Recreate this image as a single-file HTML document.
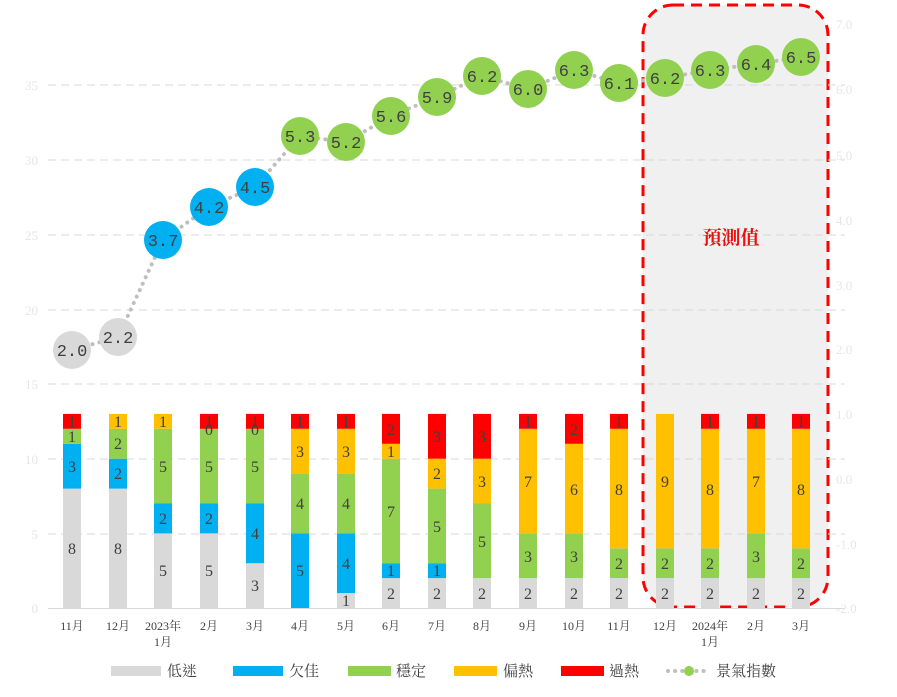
<!DOCTYPE html>
<html><head><meta charset="utf-8"><style>
html,body{margin:0;padding:0;background:#fff;}
svg{display:block;font-family:"Liberation Serif","Noto Serif CJK TC","Noto Sans CJK TC",serif;}
.l{font-size:16px;fill:#404040;text-anchor:middle;}
.x{font-size:12px;fill:#404040;text-anchor:middle;}
.a{font-size:13px;fill:#e6e6e6;}
.c{font-size:17px;fill:#404040;text-anchor:middle;font-family:"Liberation Mono",monospace;}
.g{fill:#d9d9d9}.b{fill:#00b0f0}.n{fill:#92d050}.y{fill:#ffc000}.r{fill:#ff0000}
</style></head><body>
<svg width="897" height="697" viewBox="0 0 897 697">
<rect x="643" y="5" width="185" height="602" rx="30" fill="#f0f0f0" stroke="#ff0000" stroke-width="3" stroke-dasharray="11,7"/>
<g stroke="#d9d9d9" stroke-width="1" stroke-dasharray="8,5">
<line x1="48" x2="845" y1="85" y2="85"/><line x1="48" x2="845" y1="160" y2="160"/>
<line x1="48" x2="845" y1="235" y2="235"/><line x1="48" x2="845" y1="310" y2="310"/>
<line x1="48" x2="845" y1="384" y2="384"/><line x1="48" x2="845" y1="459" y2="459"/>
<line x1="48" x2="845" y1="534" y2="534"/>
</g>
<line x1="48" x2="845" y1="608.5" y2="608.5" stroke="#d9d9d9"/>
<g class="a" text-anchor="end">
<text x="38" y="90">35</text><text x="38" y="165">30</text><text x="38" y="240">25</text>
<text x="38" y="315">20</text><text x="38" y="389">15</text><text x="38" y="464">10</text>
<text x="38" y="539">5</text><text x="38" y="613">0</text>
</g>
<g class="a" text-anchor="start">
<text x="836" y="29">7.0</text><text x="836" y="94">6.0</text><text x="836" y="160">5.0</text>
<text x="836" y="225">4.0</text><text x="836" y="290">3.0</text><text x="836" y="354">2.0</text>
<text x="836" y="419">1.0</text><text x="836" y="484">0.0</text><text x="836" y="549">-1.0</text>
<text x="836" y="613">-2.0</text>
</g>
<g>
<rect class="g" x="63" y="488.6" width="18" height="119.4"/><rect class="b" x="63" y="443.8" width="18" height="44.8"/><rect class="n" x="63" y="428.8" width="18" height="15"/><rect class="r" x="63" y="413.9" width="18" height="14.9"/>
<text class="l" x="72" y="554">8</text><text class="l" x="72" y="472">3</text><text class="l" x="72" y="442">1</text><text class="l" x="72" y="427">1</text>
<rect class="g" x="109" y="488.6" width="18" height="119.4"/><rect class="b" x="109" y="458.7" width="18" height="29.9"/><rect class="n" x="109" y="428.8" width="18" height="29.9"/><rect class="y" x="109" y="413.9" width="18" height="14.9"/>
<text class="l" x="118" y="554">8</text><text class="l" x="118" y="479">2</text><text class="l" x="118" y="449">2</text><text class="l" x="118" y="427">1</text>
<rect class="g" x="154" y="533.4" width="18" height="74.6"/><rect class="b" x="154" y="503.5" width="18" height="29.9"/><rect class="n" x="154" y="428.8" width="18" height="74.7"/><rect class="y" x="154" y="413.9" width="18" height="14.9"/>
<text class="l" x="163" y="576">5</text><text class="l" x="163" y="524">2</text><text class="l" x="163" y="472">5</text><text class="l" x="163" y="427">1</text>
<rect class="g" x="200" y="533.4" width="18" height="74.6"/><rect class="b" x="200" y="503.5" width="18" height="29.9"/><rect class="n" x="200" y="428.8" width="18" height="74.7"/><rect class="r" x="200" y="413.9" width="18" height="14.9"/>
<text class="l" x="209" y="576">5</text><text class="l" x="209" y="524">2</text><text class="l" x="209" y="472">5</text><text class="l" x="209" y="435">0</text><text class="l" x="209" y="427">1</text>
<rect class="g" x="246" y="563.2" width="18" height="44.8"/><rect class="b" x="246" y="503.5" width="18" height="59.7"/><rect class="n" x="246" y="428.8" width="18" height="74.7"/><rect class="r" x="246" y="413.9" width="18" height="14.9"/>
<text class="l" x="255" y="591">3</text><text class="l" x="255" y="539">4</text><text class="l" x="255" y="472">5</text><text class="l" x="255" y="435">0</text><text class="l" x="255" y="427">1</text>
<rect class="b" x="291" y="533.4" width="18" height="74.6"/><rect class="n" x="291" y="473.6" width="18" height="59.8"/><rect class="y" x="291" y="428.8" width="18" height="44.8"/><rect class="r" x="291" y="413.9" width="18" height="14.9"/>
<text class="l" x="300" y="576">5</text><text class="l" x="300" y="509">4</text><text class="l" x="300" y="457">3</text><text class="l" x="300" y="427">1</text>
<rect class="g" x="337" y="593.1" width="18" height="14.9"/><rect class="b" x="337" y="533.4" width="18" height="59.7"/><rect class="n" x="337" y="473.6" width="18" height="59.8"/><rect class="y" x="337" y="428.8" width="18" height="44.8"/><rect class="r" x="337" y="413.9" width="18" height="14.9"/>
<text class="l" x="346" y="606">1</text><text class="l" x="346" y="569">4</text><text class="l" x="346" y="509">4</text><text class="l" x="346" y="457">3</text><text class="l" x="346" y="427">1</text>
<rect class="g" x="382" y="578.1" width="18" height="29.9"/><rect class="b" x="382" y="563.2" width="18" height="14.9"/><rect class="n" x="382" y="458.7" width="18" height="104.5"/><rect class="y" x="382" y="443.8" width="18" height="14.9"/><rect class="r" x="382" y="413.9" width="18" height="29.9"/>
<text class="l" x="391" y="599">2</text><text class="l" x="391" y="576">1</text><text class="l" x="391" y="517">7</text><text class="l" x="391" y="457">1</text><text class="l" x="391" y="435">2</text>
<rect class="g" x="428" y="578.1" width="18" height="29.9"/><rect class="b" x="428" y="563.2" width="18" height="14.9"/><rect class="n" x="428" y="488.6" width="18" height="74.6"/><rect class="y" x="428" y="458.7" width="18" height="29.9"/><rect class="r" x="428" y="413.9" width="18" height="44.8"/>
<text class="l" x="437" y="599">2</text><text class="l" x="437" y="576">1</text><text class="l" x="437" y="532">5</text><text class="l" x="437" y="479">2</text><text class="l" x="437" y="442">3</text>
<rect class="g" x="473" y="578.1" width="18" height="29.9"/><rect class="n" x="473" y="503.5" width="18" height="74.6"/><rect class="y" x="473" y="458.7" width="18" height="44.8"/><rect class="r" x="473" y="413.9" width="18" height="44.8"/>
<text class="l" x="482" y="599">2</text><text class="l" x="482" y="547">5</text><text class="l" x="482" y="487">3</text><text class="l" x="482" y="442">3</text>
<rect class="g" x="519" y="578.1" width="18" height="29.9"/><rect class="n" x="519" y="533.4" width="18" height="44.7"/><rect class="y" x="519" y="428.8" width="18" height="104.6"/><rect class="r" x="519" y="413.9" width="18" height="14.9"/>
<text class="l" x="528" y="599">2</text><text class="l" x="528" y="562">3</text><text class="l" x="528" y="487">7</text><text class="l" x="528" y="427">1</text>
<rect class="g" x="565" y="578.1" width="18" height="29.9"/><rect class="n" x="565" y="533.4" width="18" height="44.7"/><rect class="y" x="565" y="443.8" width="18" height="89.6"/><rect class="r" x="565" y="413.9" width="18" height="29.9"/>
<text class="l" x="574" y="599">2</text><text class="l" x="574" y="562">3</text><text class="l" x="574" y="495">6</text><text class="l" x="574" y="435">2</text>
<rect class="g" x="610" y="578.1" width="18" height="29.9"/><rect class="n" x="610" y="548.3" width="18" height="29.8"/><rect class="y" x="610" y="428.8" width="18" height="119.5"/><rect class="r" x="610" y="413.9" width="18" height="14.9"/>
<text class="l" x="619" y="599">2</text><text class="l" x="619" y="569">2</text><text class="l" x="619" y="495">8</text><text class="l" x="619" y="427">1</text>
<rect class="g" x="656" y="578.1" width="18" height="29.9"/><rect class="n" x="656" y="548.3" width="18" height="29.8"/><rect class="y" x="656" y="413.9" width="18" height="134.4"/>
<text class="l" x="665" y="599">2</text><text class="l" x="665" y="569">2</text><text class="l" x="665" y="487">9</text>
<rect class="g" x="701" y="578.1" width="18" height="29.9"/><rect class="n" x="701" y="548.3" width="18" height="29.8"/><rect class="y" x="701" y="428.8" width="18" height="119.5"/><rect class="r" x="701" y="413.9" width="18" height="14.9"/>
<text class="l" x="710" y="599">2</text><text class="l" x="710" y="569">2</text><text class="l" x="710" y="495">8</text><text class="l" x="710" y="427">1</text>
<rect class="g" x="747" y="578.1" width="18" height="29.9"/><rect class="n" x="747" y="533.4" width="18" height="44.7"/><rect class="y" x="747" y="428.8" width="18" height="104.6"/><rect class="r" x="747" y="413.9" width="18" height="14.9"/>
<text class="l" x="756" y="599">2</text><text class="l" x="756" y="562">3</text><text class="l" x="756" y="487">7</text><text class="l" x="756" y="427">1</text>
<rect class="g" x="792" y="578.1" width="18" height="29.9"/><rect class="n" x="792" y="548.3" width="18" height="29.8"/><rect class="y" x="792" y="428.8" width="18" height="119.5"/><rect class="r" x="792" y="413.9" width="18" height="14.9"/>
<text class="l" x="801" y="599">2</text><text class="l" x="801" y="569">2</text><text class="l" x="801" y="495">8</text><text class="l" x="801" y="427">1</text>
</g>
<g class="x">
<text x="72" y="630">11月</text><text x="118" y="630">12月</text><text x="163" y="630">2023年</text><text x="163" y="646">1月</text>
<text x="209" y="630">2月</text><text x="255" y="630">3月</text><text x="300" y="630">4月</text><text x="346" y="630">5月</text>
<text x="391" y="630">6月</text><text x="437" y="630">7月</text><text x="482" y="630">8月</text><text x="528" y="630">9月</text>
<text x="574" y="630">10月</text><text x="619" y="630">11月</text><text x="665" y="630">12月</text><text x="710" y="630">2024年</text><text x="710" y="646">1月</text>
<text x="756" y="630">2月</text><text x="801" y="630">3月</text>
</g>
<polyline fill="none" stroke="#bfbfbf" stroke-width="4" stroke-dasharray="0.1,7" stroke-linecap="round"
points="72,350 118,337 163,240 209,207 255,187 300,136 346,142 391,116 437,97 482,76 528,89 574,70 619,83 665,78 710,70 756,64 801,57"/>
<g>
<circle cx="72" cy="350" r="19" fill="#d9d9d9"/><circle cx="118" cy="337" r="19" fill="#d9d9d9"/>
<circle cx="163" cy="240" r="19" fill="#00b0f0"/><circle cx="209" cy="207" r="19" fill="#00b0f0"/><circle cx="255" cy="187" r="19" fill="#00b0f0"/>
<circle cx="300" cy="136" r="19" fill="#92d050"/><circle cx="346" cy="142" r="19" fill="#92d050"/><circle cx="391" cy="116" r="19" fill="#92d050"/>
<circle cx="437" cy="97" r="19" fill="#92d050"/><circle cx="482" cy="76" r="19" fill="#92d050"/><circle cx="528" cy="89" r="19" fill="#92d050"/>
<circle cx="574" cy="70" r="19" fill="#92d050"/><circle cx="619" cy="83" r="19" fill="#92d050"/><circle cx="665" cy="78" r="19" fill="#92d050"/>
<circle cx="710" cy="70" r="19" fill="#92d050"/><circle cx="756" cy="64" r="19" fill="#92d050"/><circle cx="801" cy="57" r="19" fill="#92d050"/>
</g>
<g class="c">
<text x="72" y="356">2.0</text><text x="118" y="343">2.2</text><text x="163" y="246">3.7</text><text x="209" y="213">4.2</text>
<text x="255" y="193">4.5</text><text x="300" y="142">5.3</text><text x="346" y="148">5.2</text><text x="391" y="122">5.6</text>
<text x="437" y="103">5.9</text><text x="482" y="82">6.2</text><text x="528" y="95">6.0</text><text x="574" y="76">6.3</text>
<text x="619" y="89">6.1</text><text x="665" y="84">6.2</text><text x="710" y="76">6.3</text><text x="756" y="70">6.4</text><text x="801" y="63">6.5</text>
</g>
<text x="731" y="244" text-anchor="middle" font-size="19" font-weight="bold" fill="#e81010">預測值</text>
<g font-size="15" fill="#404040">
<rect x="111" y="666" width="50" height="10" fill="#d9d9d9"/><text x="167" y="676">低迷</text>
<rect x="233" y="666" width="50" height="10" fill="#00b0f0"/><text x="289" y="676">欠佳</text>
<rect x="348" y="666" width="43" height="10" fill="#92d050"/><text x="396" y="676">穩定</text>
<rect x="454" y="666" width="43" height="10" fill="#ffc000"/><text x="503" y="676">偏熱</text>
<rect x="561" y="666" width="43" height="10" fill="#ff0000"/><text x="609" y="676">過熱</text>
<line x1="668" x2="706" y1="671" y2="671" stroke="#bfbfbf" stroke-width="4" stroke-dasharray="0.1,7" stroke-linecap="round"/>
<circle cx="689" cy="671" r="5" fill="#92d050"/>
<text x="716" y="676">景氣指數</text>
</g>
</svg>
</body></html>
